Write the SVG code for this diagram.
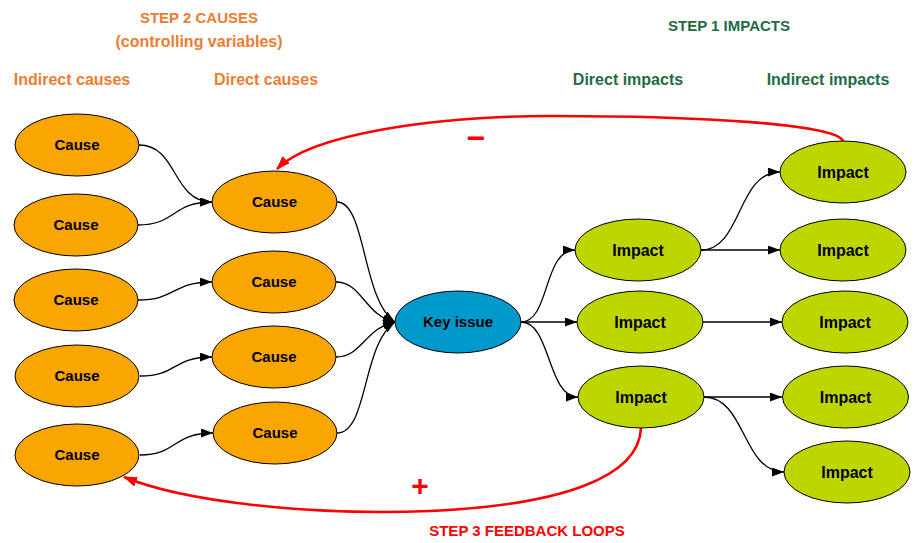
<svg xmlns="http://www.w3.org/2000/svg" width="917" height="543" viewBox="0 0 917 543">
  <defs>
    <marker id="arrow" markerUnits="userSpaceOnUse" markerWidth="12" markerHeight="9" refX="12" refY="4.5" orient="auto">
      <path d="M0,0 L12,4.5 L0,9 z" fill="#000"/>
    </marker>
    <marker id="arrow-red" markerUnits="userSpaceOnUse" markerWidth="14" markerHeight="10" refX="13" refY="5" orient="auto">
      <path d="M0,0 L14,5 L0,10 z" fill="#FF0000"/>
    </marker>
  </defs>
  <style>
    text { font-family: "Liberation Sans", Arial, sans-serif; font-weight: bold; text-anchor: middle; }
    .head-cause { fill: #ED7D31; }
    .head-impact { fill: #1E6B45; }
    .head-loop { fill: #FF0000; }
    .caps { font-size: 15px; }
    .sub { font-size: 16px; }
    .node ellipse { stroke: #000; stroke-width: 1; }
    .node text { font-size: 15px; fill: #000; }
    .impact text { font-size: 16px; }
    .cause ellipse { fill: #F9A602; }
    .impact ellipse { fill: #BED600; }
    .issue ellipse { fill: #0099CC; }
    .link { fill: none; stroke: #000; stroke-width: 1.3; marker-end: url(#arrow); }
    .loop { fill: none; stroke: #FF0000; stroke-width: 2.6; marker-end: url(#arrow-red); }
  </style>

  <!-- headings -->
  <g id="headings">
    <text class="head-cause caps" x="199" y="23">STEP 2 CAUSES</text>
    <text class="head-cause sub" x="199" y="47">(controlling variables)</text>
    <text class="head-cause sub" x="72" y="85">Indirect causes</text>
    <text class="head-cause sub" x="266" y="85">Direct causes</text>
    <text class="head-impact caps" x="729" y="31">STEP 1 IMPACTS</text>
    <text class="head-impact sub" x="628" y="85">Direct impacts</text>
    <text class="head-impact sub" x="828" y="85">Indirect impacts</text>
    <text class="head-loop caps" x="527" y="536">STEP 3 FEEDBACK LOOPS</text>
  </g>

  <!-- connectors -->
  <g id="connectors">
    <path class="link" d="M139,145 C178,145 172,202 212,202"/>
    <path class="link" d="M138,225 C176,225 172,202 212,202"/>
    <path class="link" d="M138,300 C176,300 172,282 212,282"/>
    <path class="link" d="M140,376 C178,376 172,357 212,357"/>
    <path class="link" d="M140,455 C178,455 172,433 213,433"/>

    <path class="link" d="M337,202 C366,202 362,300 395,322"/>
    <path class="link" d="M336,282 C362,282 365,316 395,322"/>
    <path class="link" d="M336,357 C362,357 365,328 395,322"/>
    <path class="link" d="M337,433 C368,433 362,344 395,322"/>

    <path class="link" d="M521,322 C550,322 543,250 575,250"/>
    <path class="link" d="M521,322 L577,322"/>
    <path class="link" d="M521,322 C551,322 547,397 578,397"/>

    <path class="link" d="M701,250 C742,250 737,172 780,172"/>
    <path class="link" d="M701,250 L780,250"/>
    <path class="link" d="M703,322 L782,322"/>
    <path class="link" d="M704,397 L782,397"/>
    <path class="link" d="M704,397 C746,397 742,472 784,472"/>

    <!-- feedback loops -->
    <path class="loop" d="M843,141 C836,124 700,116 552,116 C430,116 310,135 277,169"/>
    <path class="loop" d="M641,428 C639,478 560,505 430,511 C300,516 180,500 124,477"/>
    <text class="head-loop" x="476" y="149" style="font-size:32px">−</text>
    <text class="head-loop" x="420" y="496" style="font-size:30px">+</text>
  </g>

  <!-- indirect causes -->
  <g id="cause-i1" class="node cause"><ellipse cx="77" cy="145" rx="62" ry="31"/><text x="77" y="150">Cause</text></g>
  <g id="cause-i2" class="node cause"><ellipse cx="76" cy="225" rx="62" ry="31"/><text x="76" y="230">Cause</text></g>
  <g id="cause-i3" class="node cause"><ellipse cx="76" cy="300" rx="62" ry="31"/><text x="76" y="305">Cause</text></g>
  <g id="cause-i4" class="node cause"><ellipse cx="77" cy="376" rx="62" ry="31"/><text x="77" y="381">Cause</text></g>
  <g id="cause-i5" class="node cause"><ellipse cx="77" cy="455" rx="62" ry="31"/><text x="77" y="460">Cause</text></g>

  <!-- direct causes -->
  <g id="cause-d1" class="node cause"><ellipse cx="274.5" cy="202" rx="62.5" ry="31"/><text x="274.5" y="207">Cause</text></g>
  <g id="cause-d2" class="node cause"><ellipse cx="274" cy="282" rx="62" ry="31"/><text x="274" y="287">Cause</text></g>
  <g id="cause-d3" class="node cause"><ellipse cx="274" cy="357" rx="62" ry="31"/><text x="274" y="362">Cause</text></g>
  <g id="cause-d4" class="node cause"><ellipse cx="275" cy="433" rx="62" ry="31"/><text x="275" y="438">Cause</text></g>

  <!-- key issue -->
  <g id="key-issue" class="node issue"><ellipse cx="458" cy="322" rx="63" ry="31"/><text x="458" y="327">Key issue</text></g>

  <!-- direct impacts -->
  <g id="impact-d1" class="node impact"><ellipse cx="638" cy="250" rx="63" ry="31"/><text x="638" y="256">Impact</text></g>
  <g id="impact-d2" class="node impact"><ellipse cx="640" cy="322" rx="63" ry="31"/><text x="640" y="328">Impact</text></g>
  <g id="impact-d3" class="node impact"><ellipse cx="641" cy="397" rx="63" ry="31"/><text x="641" y="403">Impact</text></g>

  <!-- indirect impacts -->
  <g id="impact-i1" class="node impact"><ellipse cx="843" cy="172" rx="63" ry="31"/><text x="843" y="178">Impact</text></g>
  <g id="impact-i2" class="node impact"><ellipse cx="843" cy="250" rx="63" ry="31"/><text x="843" y="256">Impact</text></g>
  <g id="impact-i3" class="node impact"><ellipse cx="845" cy="322" rx="63" ry="31"/><text x="845" y="328">Impact</text></g>
  <g id="impact-i4" class="node impact"><ellipse cx="845.5" cy="397" rx="63" ry="31"/><text x="845.5" y="403">Impact</text></g>
  <g id="impact-i5" class="node impact"><ellipse cx="847" cy="472" rx="63" ry="31"/><text x="847" y="478">Impact</text></g>
</svg>
